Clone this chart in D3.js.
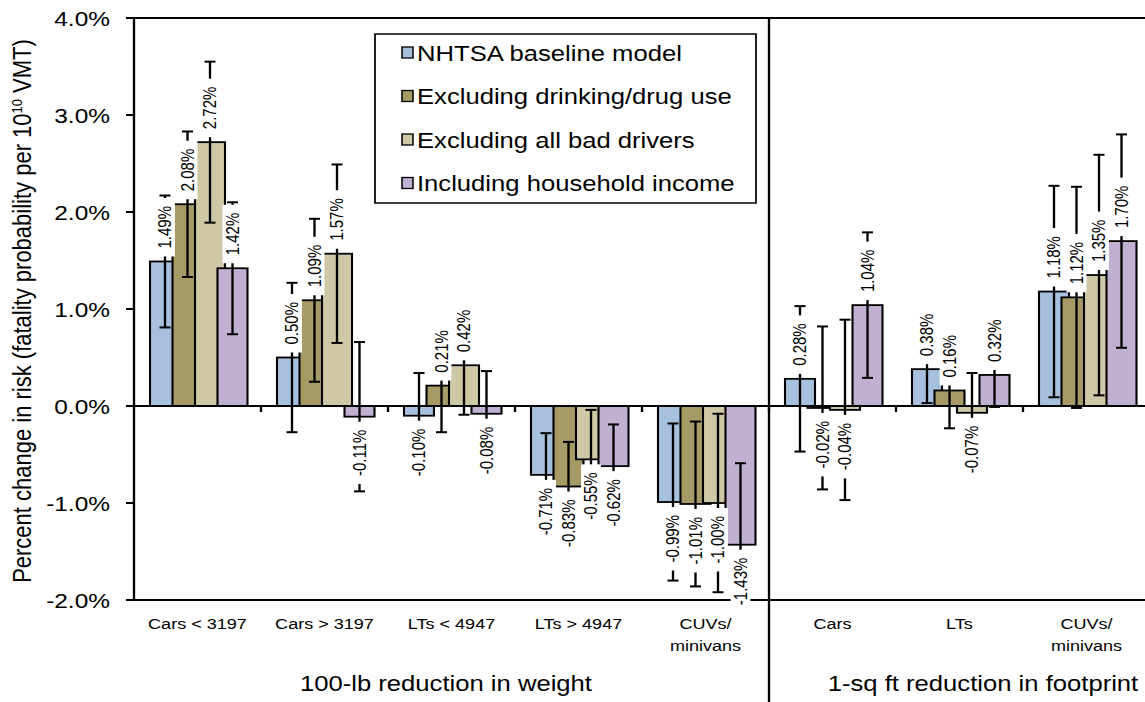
<!DOCTYPE html>
<html>
<head>
<meta charset="utf-8">
<script src="https://cdn.jsdelivr.net/npm/d3@7"></script>
<style>
  html, body { margin: 0; padding: 0; background: #fff; }
  svg { display: block; font-family: "Liberation Sans", Arial, sans-serif; }
</style>
</head>
<body>
<div id="chart"><svg></svg></div>
<script>
// data
const categories = ['Cars < 3197', 'Cars > 3197', 'LTs < 4947', 'LTs > 4947', 'CUVs/\nminivans',
  'Cars', 'LTs', 'CUVs/\nminivans'];
const groupNames = ['100-lb reduction in weight', '1-sq ft reduction in footprint'];
const seriesNames = ['NHTSA baseline model', 'Excluding drinking/drug use',
  'Excluding all bad drivers', 'Including household income'];

const baseline = [1.49, 0.50, -0.10, -0.71, -0.99, 0.28, 0.38, 1.18];
const noDrinking = [2.08, 1.09, 0.21, -0.83, -1.01, -0.02, 0.16, 1.12];
const noBadDrivers = [2.72, 1.57, 0.42, -0.55, -1.00, -0.04, -0.07, 1.35];
const withIncome = [1.42, -0.11, -0.08, -0.62, -1.43, 1.04, 0.32, 1.70];

// half-width of the confidence intervals
const baselineErr = [0.68, 0.77, 0.44, 0.43, 0.81, 0.75, 0.35, 1.09];
const noDrinkingErr = [0.75, 0.84, 0.48, 0.46, 0.85, 0.84, 0.39, 1.14];
const noBadDriversErr = [0.83, 0.92, 0.51, 0.51, 0.92, 0.93, 0.41, 1.24];
const withIncomeErr = [0.68, 0.77, 0.44, 0.43, 0.84, 0.75, 0.33, 1.10];

const yTicks = [-2, -1, 0, 1, 2, 3, 4];

const seriesValues = [baseline, noDrinking, noBadDrivers, withIncome];
const seriesErrors = [baselineErr, noDrinkingErr, noBadDriversErr, withIncomeErr];

// the picture is stretched sideways, so draw in a narrower viewBox
const SX = 1.165;
const WIDTH = 1145;
const HEIGHT = 702;
const X = px => px / SX;

const svg = d3.select('#chart svg')
  .attr('width', WIDTH)
  .attr('height', HEIGHT)
  .attr('viewBox', `0 0 ${WIDTH / SX} ${HEIGHT}`)
  .attr('preserveAspectRatio', 'none');

const LEFT = X(134);
const RIGHT = X(1150);
const TOP = 18;
const BOTTOM = 600;

// color scale
const scaleColor = d3.scaleOrdinal()
  .domain(seriesNames)
  .range(['#a7c0de', '#a69a66', '#cfc8a6', '#c0b0d2']);

// X scale
const scaleX = d3.scaleBand()
  .domain(d3.range(categories.length))
  .range([LEFT, RIGHT]);

// Y scale
const scaleY = d3.scaleLinear()
  .domain([-2, 4])
  .range([BOTTOM, TOP]);

const band = scaleX.bandwidth();
const barW = band * 30 / 127;
const barStep = band * 22.5 / 127;
const barOff = band * 16 / 127;
const barX = (i, si) => scaleX(i) + barOff + si * barStep;

svg.append('defs').append('clipPath')
  .attr('id', 'plot-clip')
  .append('rect')
  .attr('x', LEFT)
  .attr('y', TOP)
  .attr('width', X(WIDTH) - LEFT)
  .attr('height', BOTTOM - TOP);

// bars
const barsG = svg.append('g').attr('id', 'bars');
seriesValues.forEach((vals, si) => {
  barsG.append('g')
    .selectAll('rect')
    .data(vals)
    .join('rect')
    .attr('x', (d, i) => barX(i, si))
    .attr('y', d => scaleY(Math.max(0, d)))
    .attr('width', barW)
    .attr('height', d => Math.abs(scaleY(d) - scaleY(0)))
    .style('fill', scaleColor(seriesNames[si]))
    .style('stroke', '#000')
    .style('stroke-width', 1.8);
});

// axes lines
const axisG = svg.append('g').attr('id', 'axes').style('stroke', '#000').style('stroke-width', 2);
axisG.append('line').attr('x1', LEFT).attr('x2', X(WIDTH)).attr('y1', TOP).attr('y2', TOP);
axisG.append('line').attr('x1', LEFT).attr('x2', X(WIDTH)).attr('y1', BOTTOM).attr('y2', BOTTOM);
axisG.append('line').attr('x1', LEFT).attr('x2', X(WIDTH)).attr('y1', scaleY(0)).attr('y2', scaleY(0));
axisG.append('line').attr('x1', LEFT).attr('x2', LEFT).attr('y1', TOP).attr('y2', BOTTOM);
axisG.append('line').attr('x1', scaleX(5)).attr('x2', scaleX(5)).attr('y1', TOP).attr('y2', HEIGHT);

axisG.selectAll('.ytick')
  .data(yTicks)
  .join('line')
  .attr('class', 'ytick')
  .attr('x1', LEFT - X(8))
  .attr('x2', LEFT)
  .attr('y1', d => scaleY(d))
  .attr('y2', d => scaleY(d));

axisG.selectAll('.xtick')
  .data(d3.range(1, categories.length))
  .join('line')
  .attr('class', 'xtick')
  .attr('x1', d => scaleX(d))
  .attr('x2', d => scaleX(d))
  .attr('y1', scaleY(0))
  .attr('y2', scaleY(0) + 6);

// error bars
const errG = svg.append('g')
  .attr('id', 'errors')
  .attr('clip-path', 'url(#plot-clip)')
  .style('stroke', '#000')
  .style('stroke-width', 2);
const capW = X(11);
seriesValues.forEach((vals, si) => {
  vals.forEach((v, i) => {
    const cx = barX(i, si) + barW / 2;
    const lo = scaleY(v - seriesErrors[si][i]);
    const hi = scaleY(v + seriesErrors[si][i]);
    errG.append('line').attr('x1', cx).attr('x2', cx).attr('y1', lo).attr('y2', hi);
    errG.append('line').attr('x1', cx - capW / 2).attr('x2', cx + capW / 2).attr('y1', lo).attr('y2', lo);
    errG.append('line').attr('x1', cx - capW / 2).attr('x2', cx + capW / 2).attr('y1', hi).attr('y2', hi);
  });
});

// value labels (white boxes, rotated)
const labelG = svg.append('g').attr('id', 'labels');
seriesValues.forEach((vals, si) => {
  vals.forEach((v, i) => {
    const cx = barX(i, si) + barW / 2;
    const up = v >= 0;
    const lg = labelG.append('g')
      .attr('transform', `translate(${cx},${scaleY(v)}) rotate(-90)`);
    const box = lg.append('rect').style('fill', '#fff');
    const t = lg.append('text')
      .text(v.toFixed(2) + '%')
      .attr('x', up ? 13 : -13)
      .attr('dy', '0.36em')
      .style('font-size', '15px')
      .style('text-anchor', up ? 'start' : 'end')
      .style('fill', '#000');
    const len = t.node().getComputedTextLength();
    const boxLen = len + 16;
    box.attr('x', up ? 5 : -5 - boxLen)
      .attr('y', -8.5)
      .attr('width', boxLen)
      .attr('height', 17);
  });
});

// y tick labels
svg.append('g')
  .attr('id', 'yticks')
  .selectAll('text')
  .data(yTicks)
  .join('text')
  .text(d => d.toFixed(1) + '%')
  .attr('x', X(110))
  .attr('y', d => scaleY(d))
  .attr('dy', '0.36em')
  .style('font-size', '21px')
  .style('text-anchor', 'end');

// y axis title
const yTitle = svg.append('text')
  .attr('transform', `translate(${X(22)},311) rotate(-90)`)
  .attr('dy', '0.36em')
  .style('font-size', '22px')
  .style('text-anchor', 'middle');
yTitle.append('tspan').text('Percent change in risk (fatality probability per 10');
yTitle.append('tspan').text('10').attr('dy', -8).style('font-size', '13px');
yTitle.append('tspan').text(' VMT)').attr('dy', 8);

// category labels
const catG = svg.append('g').attr('id', 'categories')
  .style('font-size', '15.5px')
  .style('text-anchor', 'middle');
categories.forEach((c, i) => {
  c.split('\n').forEach((line, li) => {
    catG.append('text')
      .text(line)
      .attr('x', scaleX(i) + band / 2)
      .attr('y', 629 + li * 22);
  });
});

// group labels
svg.append('g')
  .attr('id', 'groups')
  .selectAll('text')
  .data(groupNames)
  .join('text')
  .text(d => d)
  .attr('x', (d, i) => [X(446), X(983)][i])
  .attr('y', 691)
  .style('font-size', '22px')
  .style('text-anchor', 'middle');

// legend
const legendG = svg.append('g').attr('id', 'legend');
legendG.append('rect')
  .attr('x', X(375))
  .attr('y', 34)
  .attr('width', X(756) - X(375))
  .attr('height', 169)
  .style('fill', '#fff')
  .style('stroke', '#000')
  .style('stroke-width', 1.5);
legendG.selectAll('.swatch')
  .data(seriesNames)
  .join('rect')
  .attr('class', 'swatch')
  .attr('x', X(402))
  .attr('y', (d, i) => 61 + i * 43.5 - 14)
  .attr('width', X(11))
  .attr('height', 11)
  .style('fill', d => scaleColor(d))
  .style('stroke', '#000')
  .style('stroke-width', 1.3);
legendG.selectAll('text')
  .data(seriesNames)
  .join('text')
  .text(d => d)
  .attr('x', X(417))
  .attr('y', (d, i) => 61 + i * 43.5)
  .style('font-size', '22px');
</script>
</body>
</html>
